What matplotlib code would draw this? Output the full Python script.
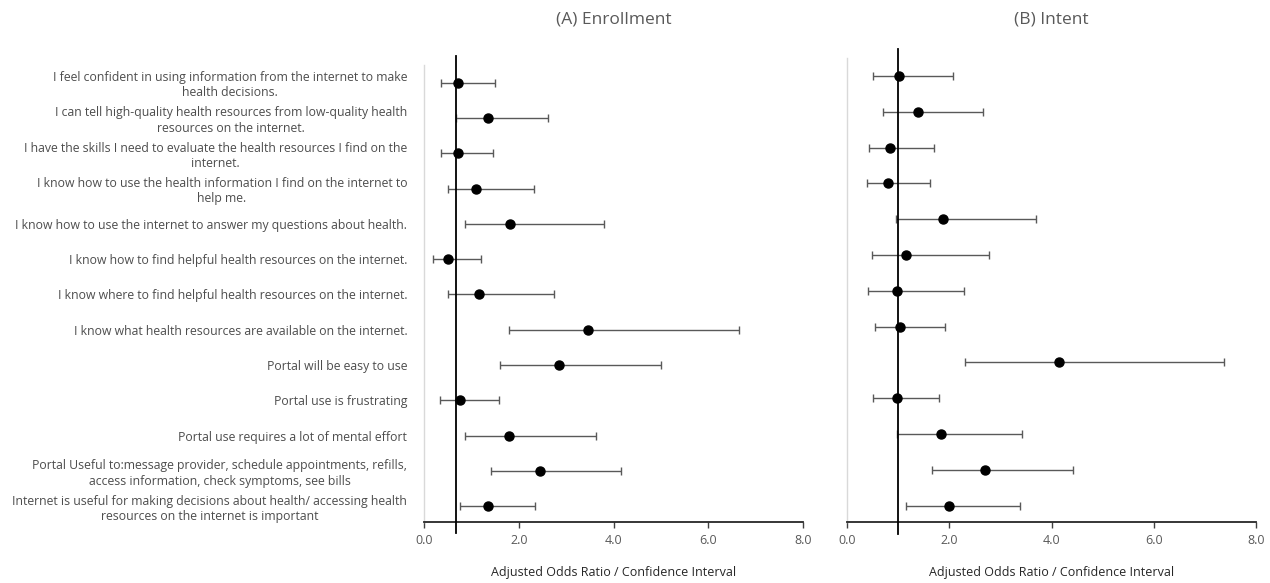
import numpy as np
from matplotlib import pyplot as plt

plt.rcParams['font.family'] = ['Open Sans', 'DejaVu Sans']

labels = [
    'I feel confident in using information from the internet to make\nhealth decisions.',
    'I can tell high-quality health resources from low-quality health\nresources on the internet.',
    'I have the skills I need to evaluate the health resources I find on the\ninternet.',
    'I know how to use the health information I find on the internet to\nhelp me.',
    'I know how to use the internet to answer my questions about health.',
    'I know how to find helpful health resources on the internet.',
    'I know where to find helpful health resources on the internet.',
    'I know what health resources are available on the internet.',
    'Portal will be easy to use',
    'Portal use is frustrating',
    'Portal use requires a lot of mental effort',
    'Portal Useful to:message provider, schedule appointments, refills,\naccess information, check symptoms, see bills',
    'Internet is useful for making decisions about health/ accessing health\nresources on the internet is important',
]

# (A) Enrollment
enroll_or = [0.72, 1.35, 0.72, 1.10, 1.82, 0.50, 1.17, 3.47, 2.85, 0.77, 1.79, 2.45, 1.35]
enroll_lo = [0.35, 0.68, 0.35, 0.50, 0.87, 0.20, 0.51, 1.79, 1.60, 0.34, 0.87, 1.42, 0.75]
enroll_hi = [1.50, 2.62, 1.45, 2.33, 3.79, 1.20, 2.74, 6.64, 5.01, 1.58, 3.64, 4.16, 2.35]
enroll_ref = 0.68

# (B) Intent
intent_or = [1.01, 1.39, 0.85, 0.81, 1.88, 1.16, 0.97, 1.04, 4.14, 0.97, 1.83, 2.70, 1.99]
intent_lo = [0.51, 0.71, 0.44, 0.39, 0.95, 0.48, 0.42, 0.55, 2.31, 0.50, 0.97, 1.67, 1.16]
intent_hi = [2.08, 2.66, 1.71, 1.62, 3.70, 2.78, 2.29, 1.92, 7.38, 1.80, 3.42, 4.43, 3.38]
intent_ref = 1.0

xticks = [0, 2, 4, 6, 8]
gray = '#595959'

fig = plt.figure(figsize=(12.7, 5.83), dpi=100)
W, H = 1270, 583
ax1 = fig.add_axes([424 / W, 1 - 522 / H, 379 / W, 457 / H])
ax2 = fig.add_axes([847 / W, 1 - 522 / H, 409 / W, 464 / H])

panels = [
    (ax1, enroll_or, enroll_lo, enroll_hi, enroll_ref, '(A) Enrollment', (12.45, -0.5)),
    (ax2, intent_or, intent_lo, intent_hi, intent_ref, '(B) Intent', (12.455, -0.503)),
]

for ax, vals, lo, hi, ref, title, ylim in panels:
    vals = np.array(vals)
    y = np.arange(len(vals))
    err = [vals - np.array(lo), np.array(hi) - vals]
    ax.errorbar(vals, y, xerr=err, fmt='none', ecolor=gray, elinewidth=1,
                capsize=2.6, capthick=1, zorder=2)
    ax.axvline(ref, ymin=-0.025, ymax=1.02, color='black', lw=1.3,
               clip_on=False, zorder=3)
    ax.plot(vals, y, 'o', color='black', markersize=6.5, zorder=4)

    ax.set_xlim(0, 8)
    ax.set_ylim(*ylim)
    ax.set_xticks(xticks)
    ax.set_xticklabels(['%.1f' % t for t in xticks], color=gray, fontsize=9)
    ax.tick_params(axis='x', direction='out', length=4, width=1, color='#404040', pad=5)
    ax.set_xlabel('Adjusted Odds Ratio / Confidence Interval', fontsize=9,
                  color='#262626', labelpad=13)

    for s in ['top', 'right']:
        ax.spines[s].set_visible(False)
    ax.spines['bottom'].set_color('#262626')
    ax.spines['bottom'].set_linewidth(1.3)
    ax.spines['left'].set_color('#d9d9d9')
    ax.spines['left'].set_linewidth(1)

    pos = ax.get_position()
    fig.text((pos.x0 + pos.x1) / 2, 1 - 19 / H, title, fontsize=12.5, color=gray,
             ha='center', va='center')

ax1.set_yticks(range(len(labels)))
ax1.set_yticklabels(labels, fontsize=8.85, color='#4d4d4d', multialignment='center',
                    linespacing=1.22)
ax1.tick_params(axis='y', length=0, pad=12)
ax2.set_yticks([])

fig.savefig('out.png', dpi=100)
plt.close()
